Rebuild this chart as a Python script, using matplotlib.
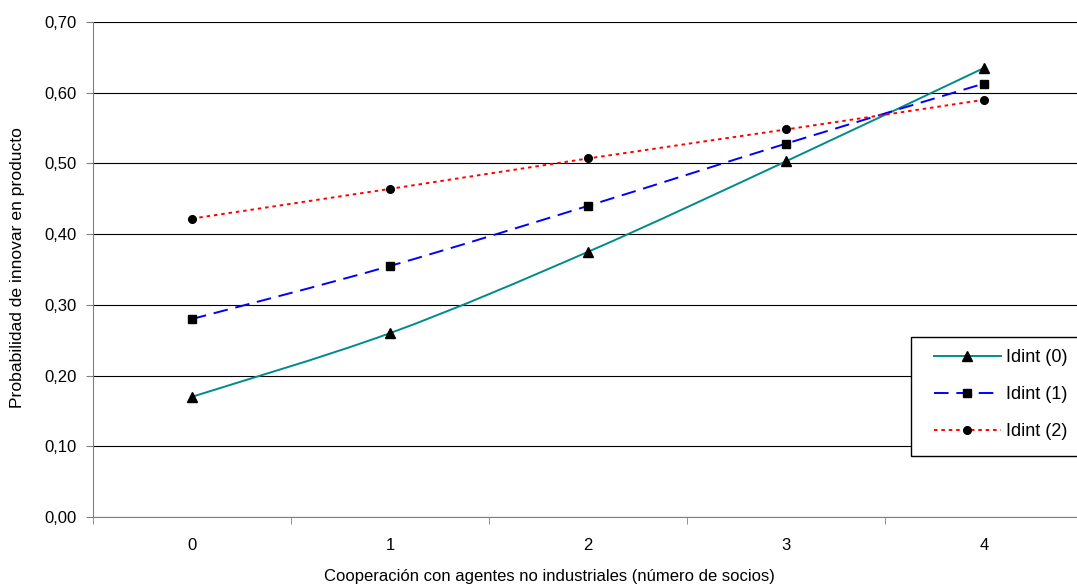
import numpy as np
import matplotlib
matplotlib.use("Agg")
import matplotlib.pyplot as plt
from matplotlib.path import Path
from matplotlib.patches import PathPatch, Rectangle
from matplotlib.lines import Line2D
from matplotlib.ticker import FuncFormatter

plt.rcParams["font.family"] = ["Liberation Sans", "DejaVu Sans"]

categories = [0, 1, 2, 3, 4]
idint0 = [0.170, 0.260, 0.375, 0.503, 0.635]
idint1 = [0.280, 0.355, 0.440, 0.528, 0.613]
idint2 = [0.422, 0.464, 0.507, 0.548, 0.590]
series_names = ["Idint (0)", "Idint (1)", "Idint (2)"]


def smooth_path(x, y):
    # Excel-like smoothed line as cubic bezier segments
    x = np.asarray(x, dtype=float)
    y = np.asarray(y, dtype=float)
    n = len(x)
    verts = [(x[0], y[0])]
    codes = [Path.MOVETO]
    for i in range(n - 1):
        i0 = max(i - 1, 0)
        i3 = min(i + 2, n - 1)
        c1 = (x[i] + (x[i + 1] - x[i0]) / 6, y[i] + (y[i + 1] - y[i0]) / 6)
        c2 = (x[i + 1] - (x[i3] - x[i]) / 6, y[i + 1] - (y[i3] - y[i]) / 6)
        verts += [c1, c2, (x[i + 1], y[i + 1])]
        codes += [Path.CURVE4] * 3
    return Path(verts, codes)


W, H = 1077, 588
fig = plt.figure(figsize=(W / 100, H / 100), dpi=100)
ax = fig.add_axes([93 / W, 1 - 517 / H, 990 / W, 495 / H])

styles = [
    dict(color="#008B8B", ls="-", marker="^", ms=7.5),
    dict(color="#0000FF", ls=(0, (7.5, 4)), marker="s", ms=5.5),
    dict(color="#FF0000", ls=(0, (1.8, 2)), marker="o", ms=5.5),
]
handles = []
for vals, st, name in zip([idint0, idint1, idint2], styles, series_names):
    patch = PathPatch(smooth_path(categories, vals), facecolor="none",
                      edgecolor=st["color"], lw=1.4, linestyle=st["ls"], zorder=3)
    ax.add_patch(patch)
    ax.plot(categories, vals, ls="none", marker=st["marker"], ms=st["ms"],
            color="black", zorder=4)
    handles.append(Line2D([], [], color=st["color"], ls=st["ls"], lw=1.4,
                          marker=st["marker"], ms=st["ms"], mfc="black", mec="black",
                          markevery=[1]))

ax.set_xlim(-0.5, 4.5)
ax.set_ylim(0, 0.70)
ax.set_yticks(np.arange(0, 0.71, 0.1))
ax.yaxis.set_major_formatter(FuncFormatter(lambda v, p: f"{v:.2f}".replace(".", ",")))
ax.set_xticks(categories)
ax.set_xticks(np.arange(-0.5, 4.6, 1), minor=True)
ax.tick_params(axis="x", which="major", length=0, pad=15, labelsize=12)
ax.tick_params(axis="x", which="minor", length=5, color="#808080")
ax.tick_params(axis="y", length=5, color="#808080", labelsize=12, pad=7)
ax.grid(axis="y", color="black", lw=0.8)
ax.set_axisbelow(True)
for s in ["top", "right"]:
    ax.spines[s].set_visible(False)
ax.spines["left"].set_color("#808080")
ax.spines["bottom"].set_color("#808080")

fig.text(549 / W, 1 - 577 / H, "Cooperación con agentes no industriales (número de socios)",
         fontsize=12, ha="center", va="center")
fig.text(18 / W, 1 - 268 / H, "Probabilidad de innovar en producto",
         fontsize=12.6, ha="center", va="center", rotation=90)

# legend frame (extends past the right edge like the original)
ax.add_patch(Rectangle((911 / W, 1 - 456 / H), 180 / W, 119 / H,
                       transform=fig.transFigure, facecolor="white",
                       edgecolor="black", lw=1.0, zorder=5, clip_on=False))
leg = ax.legend(handles, series_names, loc="upper left",
                bbox_to_anchor=(934 / W, 1 - 349 / H), bbox_transform=fig.transFigure,
                frameon=False, fontsize=13,
                handlelength=3.7, labelspacing=1.12, borderpad=0, handletextpad=0.28,
                borderaxespad=0)
leg.set_zorder(6)

fig.savefig("out.png", dpi=100)
